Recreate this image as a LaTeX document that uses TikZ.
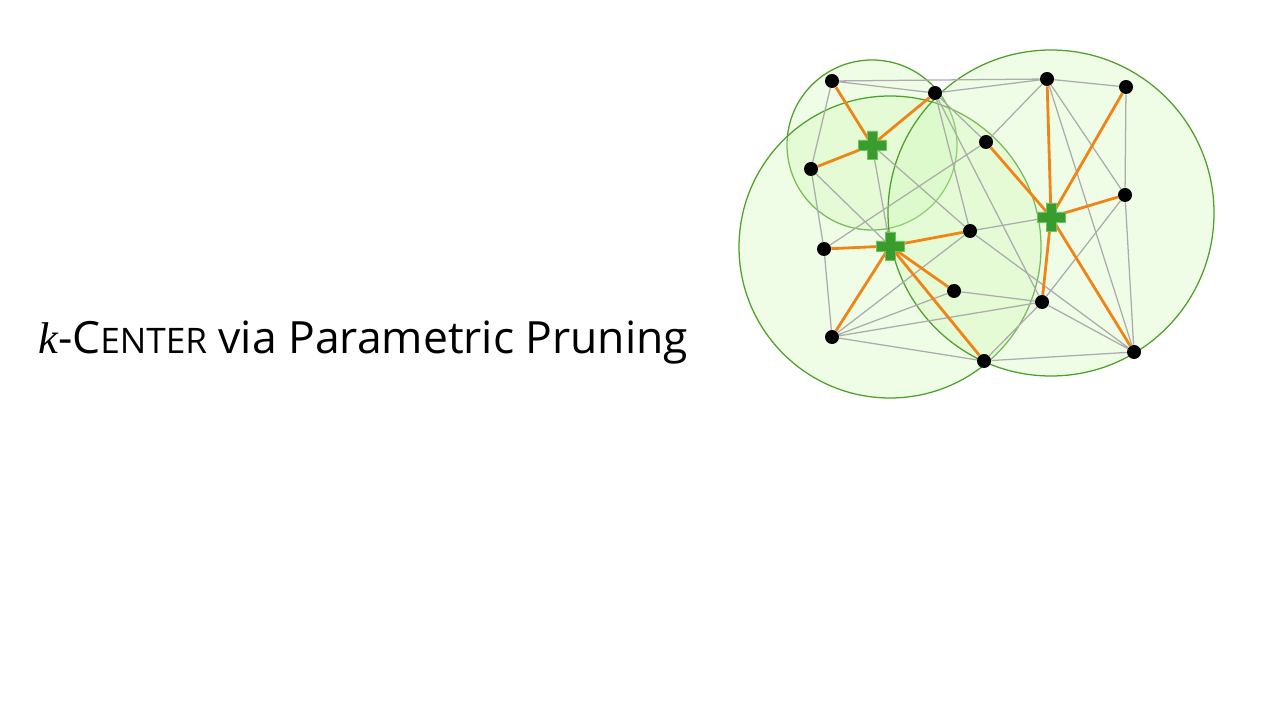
\documentclass[tikz,border=0pt]{standalone}
\usepackage{fontspec}
\setmainfont{Open Sans}
\newfontfamily\varfont{Liberation Serif}
\definecolor{ringline}{RGB}{78,160,42}
\definecolor{ringfill}{RGB}{205,248,180}
\definecolor{plusfill}{RGB}{58,156,46}
\definecolor{plusline}{RGB}{110,196,90}
\definecolor{assignline}{RGB}{240,132,22}
\definecolor{edgeline}{RGB}{172,172,172}
\tikzset{dot/.style={circle, fill=black, inner sep=0pt, minimum size=0.35cm},
  hub/.style={coordinate},
  ring/.style={draw=ringline, line width=0.9pt, fill=ringfill, fill opacity=0.32},
  link/.style={draw=edgeline, line width=0.9pt},
  assign/.style={draw=assignline, line width=2pt},
  plusmark/.pic={\filldraw[fill=plusfill, draw=plusline, line width=0.6pt] (-5,-14) -- (5,-14) -- (5,-5) -- (14,-5) -- (14,5) -- (5,5) -- (5,14) -- (-5,14) -- (-5,5) -- (-14,5) -- (-14,-5) -- (-5,-5) -- cycle;}}

\begin{document}
\begin{tikzpicture}[x=0.025cm, y=-0.025cm]
\useasboundingbox (0,0) rectangle (1280,720);
\node[anchor=base west, inner sep=0pt] (title) at (38,354) {\fontsize{31.6}{36}\selectfont{\varfont\itshape k}-C{\fontsize{25}{30}\selectfont ENTER} via Parametric Pruning};
\filldraw[ring] (872,145) circle (85);
\filldraw[ring] (890,247) circle (151);
\filldraw[ring] (1051,213) circle (163);
\node[hub] (p1) at (872,145) {};
\node[hub] (p2) at (890,246) {};
\node[hub] (p3) at (1051,217) {};
\node[dot] (a) at (832,81) {};
\node[dot] (b) at (935,93) {};
\node[dot] (c) at (1047,79) {};
\node[dot] (d) at (1126,87) {};
\node[dot] (e) at (986,142) {};
\node[dot] (f) at (811,169) {};
\node[dot] (g) at (1125,195) {};
\node[dot] (h) at (970,231) {};
\node[dot] (i) at (824,249) {};
\node[dot] (j) at (954,291) {};
\node[dot] (k) at (1042,302) {};
\node[dot] (l) at (832,337) {};
\node[dot] (m) at (984,361) {};
\node[dot] (n) at (1134,352) {};
\draw[link] (a) -- (b) (a) -- (c) (b) -- (c) (c) -- (d) (a) -- (f) (f) -- (i) (i) -- (l) (l) -- (m) (m) -- (n) (n) -- (g) (g) -- (d);
\draw[link] (b) -- (e) (b) -- (h) (b) -- (k) (c) -- (e) (c) -- (g) (c) -- (n) (e) -- (i) (f) -- (p2) (p1) -- (p2) (p1) -- (h);
\draw[link] (l) -- (h) (l) -- (j) (l) -- (k) (j) -- (k) (k) -- (m) (k) -- (g) (k) -- (n) (h) -- (p3) (h) -- (n);
\draw[assign] (p1) -- (a) (p1) -- (b) (p1) -- (f);
\draw[assign] (p2) -- (i) (p2) -- (h) (p2) -- (j) (p2) -- (m) (p2) -- (l);
\draw[assign] (p3) -- (e) (p3) -- (c) (p3) -- (d) (p3) -- (g) (p3) -- (k) (p3) -- (n);
\pic at (p1) {plusmark};
\pic at (p2) {plusmark};
\pic at (p3) {plusmark};
\end{tikzpicture}
\end{document}
